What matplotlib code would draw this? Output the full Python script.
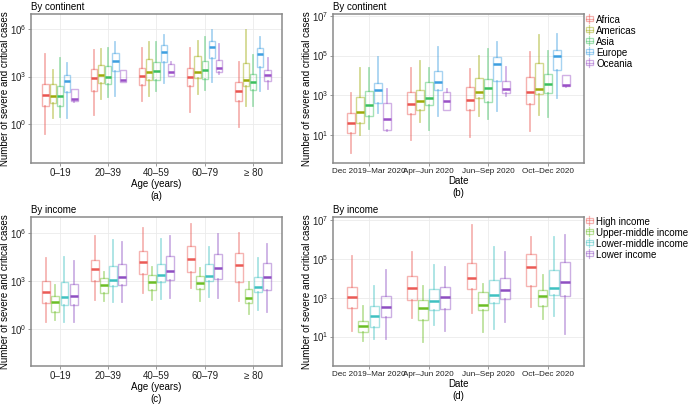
import numpy as np
import matplotlib
matplotlib.use("Agg")
import matplotlib.pyplot as plt
from matplotlib.colors import to_rgba
from matplotlib.legend_handler import HandlerBase
from matplotlib.patches import Rectangle
from matplotlib.lines import Line2D

plt.rcParams['font.family'] = ['Liberation Sans', 'DejaVu Sans']
plt.rcParams['mathtext.fontset'] = 'custom'
plt.rcParams['mathtext.rm'] = 'Liberation Sans'

ages = ["0\u201319", "20\u201339", "40\u201359", "60\u201379", "\u2265 80"]
dates = ["Dec 2019\u2013Mar 2020", "Apr\u2013Jun 2020", "Jun\u2013Sep 2020", "Oct\u2013Dec 2020"]
continents = ["Africa", "Americas", "Asia", "Europe", "Oceania"]
incomes = ["High income", "Upper-middle income", "Lower-middle income", "Lower income"]

cont_colors = ['#E9544F', '#9DAA0A', '#3BBF5E', '#3D9FE0', '#9A50C7']
inc_colors = ['#EB5A55', '#6CBE25', '#3EC1C1', '#8E4FC2']

# all values are log10(cases); rows = series, columns = categories
# (a) continent by age
a_lo = [[-0.63, 0.56, 1.44, 0.77, -0.15],
        [0.42, 1.58, 1.79, 1.88, 1.15],
        [0.48, 1.71, 2.08, 2.15, 1.17],
        [0.42, 1.81, 2.60, 2.69, 2.08],
        [1.38, 2.65, 3.06, 3.19, 2.23]]
a_q1 = [[1.15, 2.08, 2.44, 2.38, 1.48],
        [1.35, 2.58, 2.81, 2.92, 2.38],
        [1.15, 2.56, 2.81, 2.88, 2.13],
        [2.02, 3.33, 3.90, 4.19, 3.63],
        [1.48, 2.69, 3.06, 3.31, 2.71]]
a_med = [[1.85, 2.90, 3.04, 2.96, 2.10],
         [1.77, 3.10, 3.27, 3.29, 2.79],
         [1.77, 2.96, 3.38, 3.42, 2.67],
         [2.71, 4.00, 4.52, 4.85, 4.40],
         [1.60, 2.81, 3.27, 3.56, 3.08]]
a_q3 = [[2.52, 3.50, 3.56, 3.56, 2.65],
        [2.52, 3.75, 4.13, 4.31, 3.83],
        [2.38, 3.69, 3.92, 4.00, 3.19],
        [3.13, 4.50, 4.96, 5.27, 4.79],
        [2.19, 3.42, 3.81, 4.06, 3.44]]
a_hi = [[4.44, 4.69, 4.79, 4.77, 3.92],
        [3.44, 4.73, 5.17, 5.27, 5.94],
        [4.19, 4.77, 5.19, 5.48, 4.38],
        [3.85, 5.15, 5.65, 5.96, 5.52],
        [2.19, 3.42, 3.90, 5.04, 4.17]]

# (b) continent by date
b_lo = [[0.11, 0.76, 0.92, 1.22],
        [1.03, 1.66, 1.99, 2.04],
        [1.34, 1.29, 1.84, 1.94],
        [2.13, 1.99, 2.24, 2.88],
        [1.20, 2.26, 2.95, 3.42]]
b_q1 = [[1.12, 2.09, 2.29, 2.55],
        [1.62, 2.26, 2.88, 3.08],
        [1.99, 2.51, 2.65, 3.10],
        [2.61, 3.27, 3.71, 4.29],
        [1.29, 2.26, 3.13, 3.45]]
b_med = [[1.64, 2.55, 2.78, 3.15],
         [2.18, 2.73, 3.18, 3.34],
         [2.53, 2.88, 3.37, 3.57],
         [3.29, 3.69, 4.55, 4.95],
         [1.82, 2.70, 3.32, 3.54]]
b_q3 = [[2.11, 3.17, 3.40, 3.91],
        [2.92, 3.27, 3.86, 4.61],
        [3.20, 3.67, 3.81, 4.06],
        [3.62, 4.21, 4.92, 5.30],
        [2.60, 3.17, 3.71, 4.03]]
b_hi = [[3.13, 4.36, 4.33, 5.18],
        [4.36, 4.73, 4.95, 6.01],
        [4.39, 4.39, 5.32, 5.24],
        [4.93, 5.42, 5.66, 6.06],
        [3.34, 3.32, 4.43, 4.03]]

# (c) income by age
c_lo = [[0.45, 1.82, 2.27, 2.54, 1.71],
        [0.55, 1.73, 1.82, 1.73, 0.90],
        [0.43, 1.65, 1.88, 1.98, 1.20],
        [0.45, 1.67, 1.90, 1.90, 1.07]]
c_q1 = [[1.63, 3.00, 3.46, 3.56, 2.94],
        [1.07, 2.25, 2.44, 2.50, 1.59],
        [1.51, 2.69, 2.94, 3.00, 2.32],
        [1.51, 2.75, 3.06, 3.12, 2.44]]
c_med = [[2.32, 3.77, 4.18, 4.37, 3.98],
         [1.69, 2.73, 2.90, 2.88, 1.90],
         [1.98, 3.04, 3.35, 3.33, 2.61],
         [2.05, 3.27, 3.60, 3.81, 3.27]]
c_q3 = [[3.00, 4.31, 4.85, 5.18, 4.74],
        [2.05, 3.19, 3.37, 3.31, 2.48],
        [2.94, 3.93, 4.06, 4.06, 3.25],
        [2.81, 4.06, 4.56, 4.66, 4.12]]
c_hi = [[4.45, 5.78, 6.34, 6.55, 6.00],
        [2.73, 3.56, 3.85, 3.83, 2.94],
        [4.51, 5.59, 5.63, 5.14, 4.41],
        [4.24, 5.45, 5.84, 5.95, 5.28]]

# (d) income by date
d_lo = [[1.29, 1.96, 2.21, 2.50],
        [0.76, 0.71, 1.26, 1.91],
        [0.88, 1.60, 1.38, 2.04],
        [0.86, 1.31, 1.77, 1.15]]
d_q1 = [[2.45, 2.90, 3.46, 3.63],
        [1.26, 1.87, 2.38, 2.59],
        [1.50, 2.37, 2.74, 3.15],
        [2.03, 2.42, 2.95, 3.07]]
d_med = [[3.05, 3.50, 4.03, 4.61],
         [1.53, 2.47, 2.61, 3.10],
         [2.06, 2.85, 3.12, 3.50],
         [2.54, 3.02, 3.41, 3.82]]
d_q3 = [[3.58, 4.13, 4.79, 5.26],
        [1.80, 2.90, 3.31, 3.41],
        [2.56, 3.46, 3.92, 4.44],
        [3.09, 3.56, 4.03, 4.85]]
d_hi = [[5.14, 5.38, 6.78, 6.13],
        [2.59, 3.63, 3.72, 4.16],
        [3.62, 4.69, 5.63, 6.16],
        [4.42, 4.61, 5.36, 6.26]]


def draw_panel(ax, cats, colors, lo, q1, med, q3, hi, ylim, yticks, xsize):
    n = len(colors)
    step = 0.75 / n
    x = np.arange(1, len(cats) + 1)
    for i, col in enumerate(colors):
        stats = []
        for j in range(len(cats)):
            stats.append(dict(whislo=10 ** lo[i][j], q1=10 ** q1[i][j], med=10 ** med[i][j],
                              q3=10 ** q3[i][j], whishi=10 ** hi[i][j], fliers=[]))
        pale = to_rgba(col, 0.45)
        ax.bxp(stats, positions=x + (i - (n - 1) / 2) * step, widths=step * 0.88,
               showcaps=False, showfliers=False, patch_artist=True, manage_ticks=False,
               boxprops=dict(facecolor='none', edgecolor=pale, linewidth=1.0),
               whiskerprops=dict(color=pale, linewidth=1.3),
               medianprops=dict(color=col, linewidth=1.8, solid_capstyle='butt'))
    ax.set_yscale('log')
    ax.set_ylim(10 ** ylim[0], 10 ** ylim[1])
    ax.set_yticks([10.0 ** t for t in yticks])
    ax.set_yticklabels([r'$10^{%d}$' % t for t in yticks])
    ax.minorticks_off()
    ax.set_xlim(0.4, len(cats) + 0.6)
    ax.set_xticks(x)
    ax.set_xticklabels(cats)
    ax.grid(True, color='#ebebeb', linewidth=0.6)
    ax.set_axisbelow(True)
    for s in ax.spines.values():
        s.set_color('#8a8a8a')
        s.set_linewidth(1.1)
    ax.tick_params(length=2.0, width=0.6, color='#8a8a8a', labelsize=7,
                   labelcolor='#222222', pad=1.5)
    ax.tick_params(axis='x', labelsize=xsize)
    ax.set_ylabel('Number of severe and critical cases', fontsize=7)
    ax.yaxis.set_label_coords(-0.084, 0.5)


class BoxHandler(HandlerBase):
    def create_artists(self, legend, orig, xd, yd, w, h, fontsize, trans):
        col = orig.get_color()
        pale = to_rgba(col, 0.45)
        r = Rectangle((xd + w * 0.1, yd + h * 0.2), w * 0.8, h * 0.6,
                      facecolor='none', edgecolor=pale, lw=0.9, transform=trans)
        l1 = Line2D([xd + w / 2, xd + w / 2], [yd - h * 0.05, yd + h * 1.05],
                    color=pale, lw=0.9, transform=trans)
        m = Line2D([xd + w * 0.1, xd + w * 0.9], [yd + h / 2, yd + h / 2],
                   color=pale, lw=0.9, transform=trans)
        return [l1, r, m]


fig = plt.figure(figsize=(6.92, 4.05), dpi=100)
ax_a = fig.add_axes([0.0448, 0.5975, 0.3627, 0.3679])
ax_b = fig.add_axes([0.4812, 0.5975, 0.3627, 0.3679])
ax_c = fig.add_axes([0.0448, 0.0963, 0.3627, 0.3679])
ax_d = fig.add_axes([0.4812, 0.0963, 0.3627, 0.3679])

draw_panel(ax_a, ages, cont_colors, a_lo, a_q1, a_med, a_q3, a_hi, (-2.44, 6.94), [0, 3, 6], 7)
draw_panel(ax_b, dates, cont_colors, b_lo, b_q1, b_med, b_q3, b_hi, (-0.39, 7.08), [1, 3, 5, 7], 5.9)
draw_panel(ax_c, ages, inc_colors, c_lo, c_q1, c_med, c_q3, c_hi, (-2.33, 7.0), [0, 3, 6], 7)
draw_panel(ax_d, dates, inc_colors, d_lo, d_q1, d_med, d_q3, d_hi, (-0.52, 7.17), [1, 3, 5, 7], 5.9)

for ax, title, xl, tag in [(ax_a, 'By continent', 'Age (years)', '(a)'),
                           (ax_b, 'By continent', 'Date', '(b)'),
                           (ax_c, 'By income', 'Age (years)', '(c)'),
                           (ax_d, 'By income', 'Date', '(d)')]:
    ax.set_title(title, loc='left', fontsize=7, pad=3)
    ax.set_xlabel(xl + '\n' + tag, fontsize=7, labelpad=1, linespacing=1.25)

h1 = [Line2D([], [], color=c) for c in cont_colors]
fig.legend(h1, continents, loc='upper left', bbox_to_anchor=(0.845, 0.962), frameon=False,
           fontsize=7, handler_map={Line2D: BoxHandler()}, handlelength=0.9,
           handleheight=0.9, handletextpad=0.3, labelspacing=0.1, borderpad=0, borderaxespad=0)
h2 = [Line2D([], [], color=c) for c in inc_colors]
fig.legend(h2, incomes, loc='upper left', bbox_to_anchor=(0.845, 0.464), frameon=False,
           fontsize=7, handler_map={Line2D: BoxHandler()}, handlelength=0.9,
           handleheight=0.9, handletextpad=0.3, labelspacing=0.1, borderpad=0, borderaxespad=0)

fig.savefig('out.png', dpi=100)
